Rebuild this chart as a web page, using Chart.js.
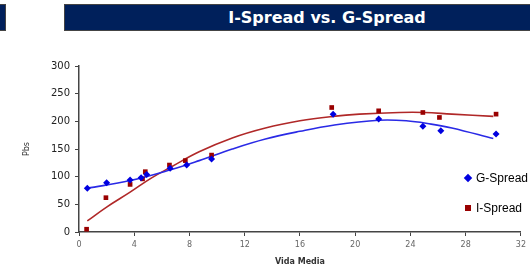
<!DOCTYPE html>
<html>
<head>
<meta charset="utf-8">
<script src="https://cdn.jsdelivr.net/npm/chart.js@4.4.1/dist/chart.umd.min.js"></script>
<style>
  body { margin: 0; background: #fff; }
  #wrap { position: relative; width: 530px; height: 274px; overflow: hidden; }
  #chart { position: absolute; left: 0; top: 0; }
  .banner { position: absolute; top: 4px; height: 27px; background: #00205b; border: 1px solid #444; box-sizing: border-box; }
  #title { left: 64px; width: 470px; padding-left: 56px; color: #fff; text-align: center;
           font: bold 16px "DejaVu Sans", sans-serif; line-height: 25px; }
  #stub { left: -2px; width: 8px; }
  .legend { position: absolute; left: 465px; font: 12px "Liberation Sans", Arial, sans-serif; color: #000; }
  .legend i { display: inline-block; width: 6px; height: 6px; margin-right: 5px; vertical-align: 1px; }
</style>
</head>
<body>
<div id="wrap">
  <div class="banner" id="stub"></div>
  <div class="banner" id="title">I-Spread vs. G-Spread</div>
  <canvas id="chart" width="530" height="274"></canvas>
  <div class="legend" style="top:171px"><i style="background:#0000e0;transform:rotate(45deg)"></i>G-Spread</div>
  <div class="legend" style="top:201px"><i style="background:#990000"></i>I-Spread</div>
</div>
<script>
// Observed spreads (Vida Media in years, spread in Pbs)
const gSpreadX = [0.6, 2.0, 3.7, 4.5, 4.9, 6.6, 7.8, 9.6, 18.4, 21.7, 24.9, 26.2, 30.2];
const gSpreadY = [79, 89, 94, 98, 104, 115, 121, 132, 213, 204, 191, 183, 177];
const iSpreadX = [0.55, 1.95, 3.7, 4.6, 4.8, 6.55, 7.7, 9.6, 18.3, 21.7, 24.9, 26.1, 30.2];
const iSpreadY = [5, 62, 86, 96, 109, 121, 129, 139, 225, 219, 216, 207, 213];

// Trend lines
const gTrendX = [0.6, 3.7, 6.7, 8.7, 11.1, 13.5, 16, 18.4, 21.7, 23.7, 25.5, 27, 30];
const gTrendY = [79, 93, 113, 129, 150, 168, 182, 193, 202, 201, 195, 188, 169];
const iTrendX = [0.6, 2, 3.7, 5.2, 6.7, 8.7, 11.1, 13.5, 16, 18.4, 20.3, 23.2, 25, 27, 30];
const iTrendY = [20, 45, 72, 97, 118, 145, 170, 188, 201, 209, 213, 216, 216, 213, 209];

const xTicks = [0, 4, 8, 12, 16, 20, 24, 28, 32];
const yTicks = [0, 50, 100, 150, 200, 250, 300];

function pairs(xs, ys) {
    return xs.map((x, i) => ({ x: x, y: ys[i] }));
}

new Chart(document.getElementById('chart'), {
    type: 'scatter',
    data: {
        datasets: [
            { label: 'G-Spread', data: pairs(gSpreadX, gSpreadY), pointStyle: 'rectRot',
              pointRadius: 3.5, backgroundColor: '#0000e0', borderColor: '#0000e0', borderWidth: 0, order: 0 },
            { label: 'I-Spread', data: pairs(iSpreadX, iSpreadY), pointStyle: 'rect',
              pointRadius: 3.3, backgroundColor: '#990000', borderColor: '#990000', borderWidth: 0, order: 0 },
            { label: 'G trend', data: pairs(gTrendX, gTrendY), showLine: true, pointRadius: 0,
              borderColor: '#2a2ae6', borderWidth: 1.6, tension: 0.4, order: 1 },
            { label: 'I trend', data: pairs(iTrendX, iTrendY), showLine: true, pointRadius: 0,
              borderColor: '#b02828', borderWidth: 1.6, tension: 0.4, order: 1 }
        ]
    },
    options: {
        responsive: false,
        animation: false,
        layout: { padding: { top: 66, right: 8, left: 0, bottom: 0 } },
        plugins: { legend: { display: false }, tooltip: { enabled: false } },
        scales: {
            x: {
                type: 'linear', min: 0, max: 32,
                afterFit: function(s) { s.height = 42; },
                afterBuildTicks: function(s) { s.ticks = xTicks.map(v => ({ value: v })); },
                border: { display: true, color: '#444', width: 1.5 },
                grid: { display: true, drawOnChartArea: false, drawTicks: true, tickLength: 4, color: '#444' },
                ticks: { padding: 4, maxRotation: 0, color: '#666', font: { family: 'DejaVu Sans', size: 8 } },
                title: { display: true, text: 'Vida Media', color: '#333', padding: { top: 0, bottom: 7 },
                         font: { family: 'DejaVu Sans', size: 8, weight: 'bold' } }
            },
            y: {
                type: 'linear', min: 0, max: 300,
                afterFit: function(s) { s.width = 79; },
                afterBuildTicks: function(s) { s.ticks = yTicks.map(v => ({ value: v })); },
                border: { display: true, color: '#444', width: 1.5 },
                grid: { display: true, drawOnChartArea: false, drawTicks: true, tickLength: 4, color: '#444' },
                ticks: { padding: 5, color: '#222', font: { family: 'DejaVu Sans', size: 10 } },
                title: { display: true, text: 'Pbs', color: '#333', padding: { top: 22, bottom: 0 },
                         font: { family: 'DejaVu Sans', size: 8 } }
            }
        }
    }
});
</script>
</body>
</html>
